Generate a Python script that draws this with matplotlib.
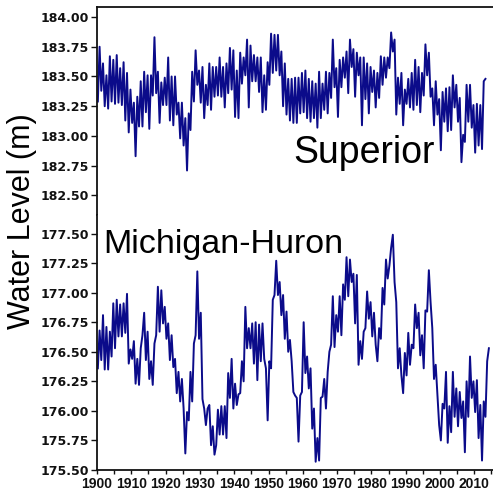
"""
Water levels of Lake Superior and Lake Michigan-Huron, 1900-2015.
"""

import numpy as np
import matplotlib
matplotlib.use('Agg')
import matplotlib.pyplot as plt
from matplotlib import font_manager as fm
from matplotlib.ticker import MultipleLocator, FormatStrFormatter

# half-year samples, first at 1900.25
start_year = 1900.25
step = 0.5

superior = [
    183.29, 183.75, 183.38, 183.61, 183.25, 183.51, 183.23, 183.67, 183.29, 183.64,
    183.27, 183.68, 183.28, 183.57, 183.26, 183.62, 183.13, 183.53, 183.03, 183.39,
    183.11, 183.28, 182.83, 183.33, 183.08, 183.46, 183.08, 183.54, 183.20, 183.51,
    183.06, 183.51, 183.34, 183.83, 183.36, 183.54, 183.11, 183.45, 183.26, 183.49,
    183.26, 183.66, 183.13, 183.50, 183.09, 183.50, 183.18, 183.28, 182.98, 183.28,
    182.92, 183.15, 182.71, 183.19, 183.05, 183.54, 183.29, 183.72, 183.43, 183.55,
    183.28, 183.58, 183.15, 183.43, 183.26, 183.61, 183.22, 183.58, 183.33, 183.58,
    183.34, 183.66, 183.33, 183.58, 183.24, 183.61, 183.36, 183.74, 183.39, 183.72,
    183.16, 183.55, 183.15, 183.70, 183.44, 183.66, 183.51, 183.81, 183.24, 183.76,
    183.46, 183.68, 183.46, 183.66, 183.37, 183.66, 183.20, 183.51, 183.22, 183.62,
    183.43, 183.86, 183.53, 183.85, 183.55, 183.85, 183.51, 183.71, 183.25, 183.61,
    183.18, 183.48, 183.13, 183.48, 183.11, 183.49, 183.11, 183.49, 183.19, 183.53,
    183.20, 183.55, 183.15, 183.48, 183.12, 183.46, 183.15, 183.44, 183.07, 183.54,
    183.15, 183.44, 183.22, 183.54, 183.19, 183.53, 183.32, 183.81, 183.41, 183.57,
    183.16, 183.64, 183.41, 183.66, 183.49, 183.71, 183.36, 183.81, 183.58, 183.73,
    183.33, 183.70, 183.51, 183.66, 183.09, 183.66, 183.31, 183.61, 183.19, 183.58,
    183.37, 183.55, 183.24, 183.53, 183.32, 183.67, 183.43, 183.66, 183.49, 183.66,
    183.57, 183.87, 183.71, 183.81, 183.18, 183.49, 183.27, 183.53, 183.09, 183.39,
    183.27, 183.48, 183.24, 183.53, 183.22, 183.64, 183.26, 183.58, 183.20, 183.53,
    183.34, 183.77, 183.51, 183.70, 183.33, 183.40, 183.09, 183.46, 183.18, 183.31,
    182.88, 183.37, 183.12, 183.40, 183.04, 183.41, 183.05, 183.51, 183.24, 183.43,
    183.12, 183.32, 182.78, 183.01, 182.95, 183.43, 183.12, 183.43, 183.07, 183.26,
    182.86, 183.27, 182.92, 183.26, 182.89, 183.46, 183.48,
]

michigan_huron = [
    176.36, 176.68, 176.43, 176.81, 176.35, 176.71, 176.35, 176.67, 176.46, 176.91,
    176.53, 176.94, 176.63, 176.90, 176.63, 176.91, 176.66, 176.99, 176.40, 176.52,
    176.44, 176.59, 176.23, 176.44, 176.22, 176.53, 176.64, 176.83, 176.43, 176.67,
    176.27, 176.42, 176.22, 176.57, 176.64, 177.05, 176.67, 177.02, 176.74, 176.88,
    176.61, 176.74, 176.43, 176.64, 176.37, 176.44, 176.15, 176.33, 176.08, 176.27,
    176.02, 175.64, 175.99, 175.92, 176.33, 176.08, 176.57, 176.64, 177.18, 176.61,
    176.83, 176.10, 176.02, 175.88, 176.02, 176.05, 175.71, 175.87, 175.63, 175.71,
    176.01, 175.80, 176.04, 175.80, 176.04, 175.77, 176.32, 176.11, 176.44, 176.02,
    176.23, 176.05, 176.14, 176.15, 176.42, 176.25, 176.88, 176.53, 176.70, 176.53,
    176.74, 176.40, 176.75, 176.26, 176.73, 176.42, 176.74, 176.44, 176.36, 175.92,
    176.42, 176.36, 176.94, 176.98, 177.27, 176.98, 177.09, 176.81, 176.98, 176.61,
    176.84, 176.50, 176.60, 176.42, 176.16, 176.13, 176.11, 175.74, 176.13, 176.16,
    176.75, 176.32, 176.46, 176.19, 176.36, 175.85, 176.02, 175.57, 175.77, 175.58,
    176.11, 176.12, 176.27, 176.02, 176.33, 176.50, 176.56, 176.97, 176.54, 176.81,
    176.67, 176.97, 176.64, 177.07, 176.94, 177.30, 176.97, 177.28, 177.09, 177.16,
    176.74, 177.15, 176.39, 176.59, 176.44, 176.67, 176.70, 177.01, 176.78, 176.92,
    176.63, 176.83, 176.56, 176.42, 176.70, 176.61, 177.04, 176.90, 177.28, 177.12,
    177.23, 177.38, 177.49, 177.09, 176.92, 176.36, 176.53, 176.30, 176.15, 176.49,
    176.30, 176.66, 176.39, 176.56, 176.53, 176.90, 176.70, 176.83, 176.47, 176.64,
    176.36, 176.85, 176.84, 177.19, 176.92, 176.70, 176.27, 176.39, 176.13, 175.88,
    175.75, 176.06, 176.02, 176.33, 175.73, 176.04, 175.82, 176.33, 175.95, 176.19,
    175.87, 176.16, 175.94, 176.08, 175.65, 176.25, 175.95, 176.46, 176.11, 176.25,
    175.99, 176.26, 175.77, 176.05, 175.58, 176.08, 175.95, 176.42, 176.53,
]

line_color = '#0b0b8a'
arial = ['Liberation Sans', 'DejaVu Sans']

# a narrow face is used if one is installed, otherwise plain Liberation Sans
installed = {f.name for f in fm.fontManager.ttflist}
has_narrow = 'Liberation Sans Narrow' in installed
if has_narrow:
    xlab_font, xlab_size = ['Liberation Sans Narrow'] + arial, 12
    mh_font, mh_size = ['Liberation Sans Narrow'] + arial, 29
else:
    xlab_font, xlab_size = arial, 10
    mh_font, mh_size = arial, 24.5


def years_for(values):
    return start_year + step * np.arange(len(values))


def style_axis(ax, ylim):
    ax.set_xlim(1900, 2015.45)
    ax.set_ylim(*ylim)
    ax.yaxis.set_major_locator(MultipleLocator(0.25))
    ax.yaxis.set_major_formatter(FormatStrFormatter('%.2f'))
    ax.xaxis.set_major_locator(MultipleLocator(10))
    ax.xaxis.set_minor_locator(MultipleLocator(5))
    ax.spines['right'].set_visible(False)
    for s in ax.spines.values():
        s.set_linewidth(1.3)
        s.set_color('#111111')
    ax.tick_params(axis='y', direction='out', length=4, width=1, pad=2,
                   labelsize=9, colors='#111111')
    for lab in ax.get_yticklabels():
        lab.set_fontweight('bold')
        lab.set_family('DejaVu Sans')


fig = plt.figure(figsize=(4.93, 4.93), dpi=100)
ax_top = fig.add_axes([97 / 493, 1 - 215 / 493, 396 / 493, 208 / 493])
ax_bot = fig.add_axes([97 / 493, 1 - 470 / 493, 396 / 493, 255 / 493])

ax_top.plot(years_for(superior), superior, color=line_color, lw=1.4)
ax_bot.plot(years_for(michigan_huron), michigan_huron, color=line_color, lw=1.4)

style_axis(ax_top, (182.336, 184.084))
style_axis(ax_bot, (175.50, 177.657))

ax_top.spines['bottom'].set_visible(False)
ax_top.tick_params(axis='x', which='both', bottom=False, labelbottom=False)
ax_bot.spines['top'].set_visible(False)
ax_bot.tick_params(axis='x', which='both', direction='out', length=3, width=1,
                   pad=2, colors='#111111')
for lab in ax_bot.get_xticklabels():
    lab.set_fontweight('bold')
    lab.set_family(xlab_font)
    lab.set_fontsize(xlab_size)

ax_top.text(0.495, 0.25, 'Superior', transform=ax_top.transAxes,
            fontsize=27, family=arial, va='baseline', ha='left')
ax_bot.text(0.016, 0.851, 'Michigan-Huron', transform=ax_bot.transAxes,
            fontsize=mh_size, family=mh_font, va='baseline', ha='left')

fig.text(22 / 493, 1 - 221 / 493, 'Water Level (m)', rotation=90,
         fontsize=22, family=arial, ha='center', va='center')

fig.savefig('out.png', dpi=100)
plt.close(fig)
